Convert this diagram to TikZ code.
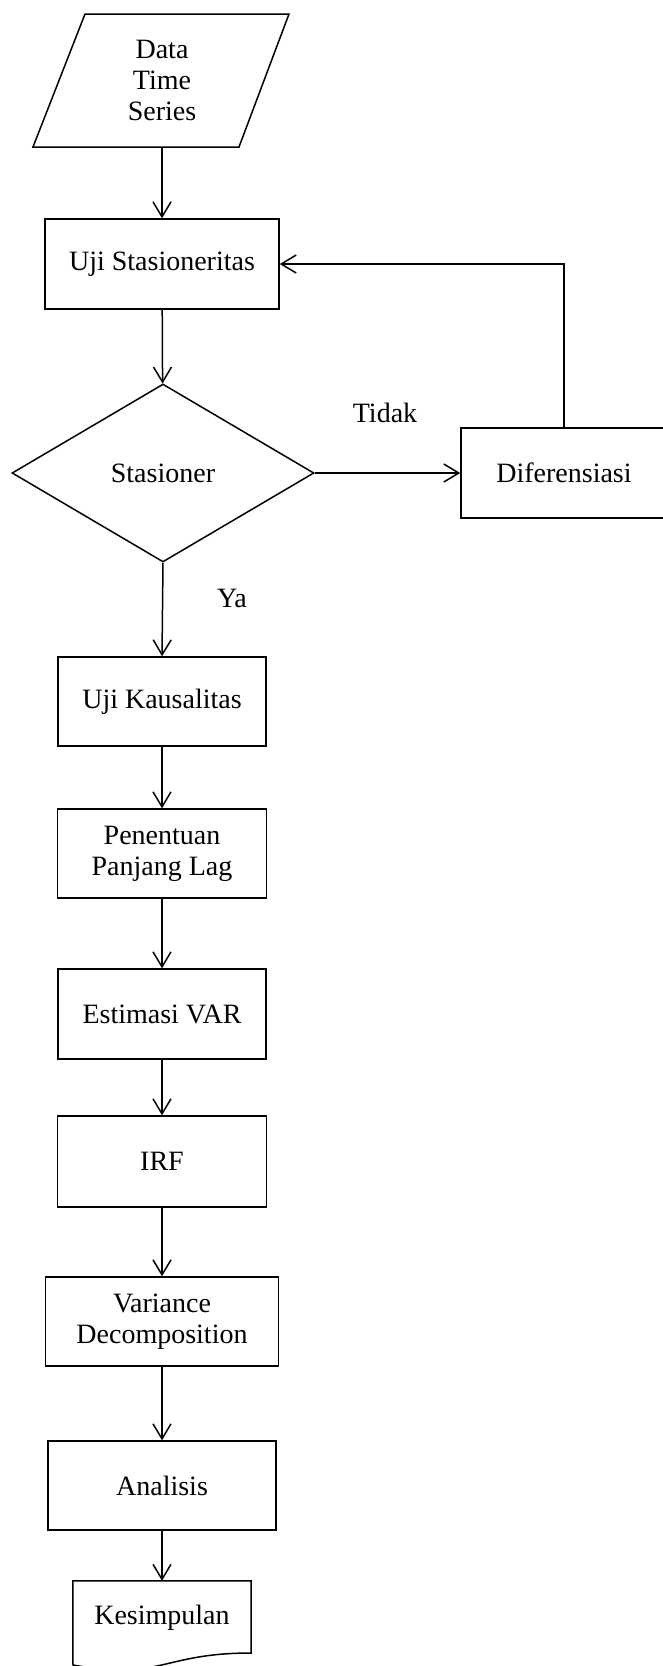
\documentclass[tikz,border=0pt]{standalone}
\usepackage{fontspec}
\setmainfont{Liberation Serif}
\usetikzlibrary{shapes.geometric,arrows.meta}
\begin{document}
\begin{tikzpicture}[x=1pt,y=-1pt,
    every node/.style={font=\fontsize{28}{31}\selectfont},
    box/.style={draw,line width=1.5pt,rectangle,inner sep=0pt,align=center},
    arr/.style={line width=1.5pt,-{Straight Barb[length=15pt,width=18pt]}}]
  \useasboundingbox (0,0) rectangle (662,1666);
  \node[inner sep=0pt,minimum height=133pt,align=center] (data) at (162,80.5) {Data\\Time\\Series};
  \draw[line width=1.5pt] (85,14) -- (289,14) -- (239,147) -- (33,147) -- cycle;
  \node[box,minimum width=234pt,minimum height=90pt] (ujist) at (162,264) {Uji Stasioneritas};
  \node[draw,diamond,line width=1.5pt,minimum width=302pt,minimum height=178pt,
    inner sep=0pt] (stas) at (163,473) {Stasioner};
  \node[box,minimum width=206pt,minimum height=90pt] (dif) at (564,473) {Diferensiasi};
  \node[box,minimum width=208pt,minimum height=89pt] (ujik) at (162,701.5) {Uji Kausalitas};
  \node[box,minimum width=209pt,minimum height=89pt] (lag) at (162,853.5) {Penentuan\\Panjang Lag};
  \node[box,minimum width=208pt,minimum height=90pt] (var) at (162,1014) {Estimasi VAR};
  \node[box,minimum width=209pt,minimum height=91pt] (irf) at (162,1161.5) {IRF};
  \node[box,minimum width=233pt,minimum height=89pt] (vd) at (162,1321.5) {Variance\\Decomposition};
  \node[box,minimum width=228pt,minimum height=89pt] (an) at (162,1485.5) {Analisis};
  \node[inner sep=0pt,minimum width=178pt,minimum height=74pt] (kes) at (162,1618) {Kesimpulan};
  \draw[line width=1.5pt] (73,1665) -- (kes.north west) -- (kes.north east) -- (251,1653)
    .. controls (162,1653) and (162,1680.7) .. (73,1665) -- cycle;
  \node (tidak) at (385,413) {Tidak};
  \node (ya) at (232,598) {Ya};
  \draw[arr] (data.south) -- (ujist.north);
  \draw[arr] (ujist) -- (stas);
  \draw[arr] (stas.east) -- (dif.west);
  \draw[arr] (dif.north) |- (ujist.east);
  \draw[arr] (stas.south) -- (ujik.north);
  \draw[arr] (ujik) -- (lag);
  \draw[arr] (lag) -- (var);
  \draw[arr] (var) -- (irf);
  \draw[arr] (irf) -- (vd);
  \draw[arr] (vd) -- (an);
  \draw[arr] (an) -- (kes.north);
\end{tikzpicture}
\end{document}
